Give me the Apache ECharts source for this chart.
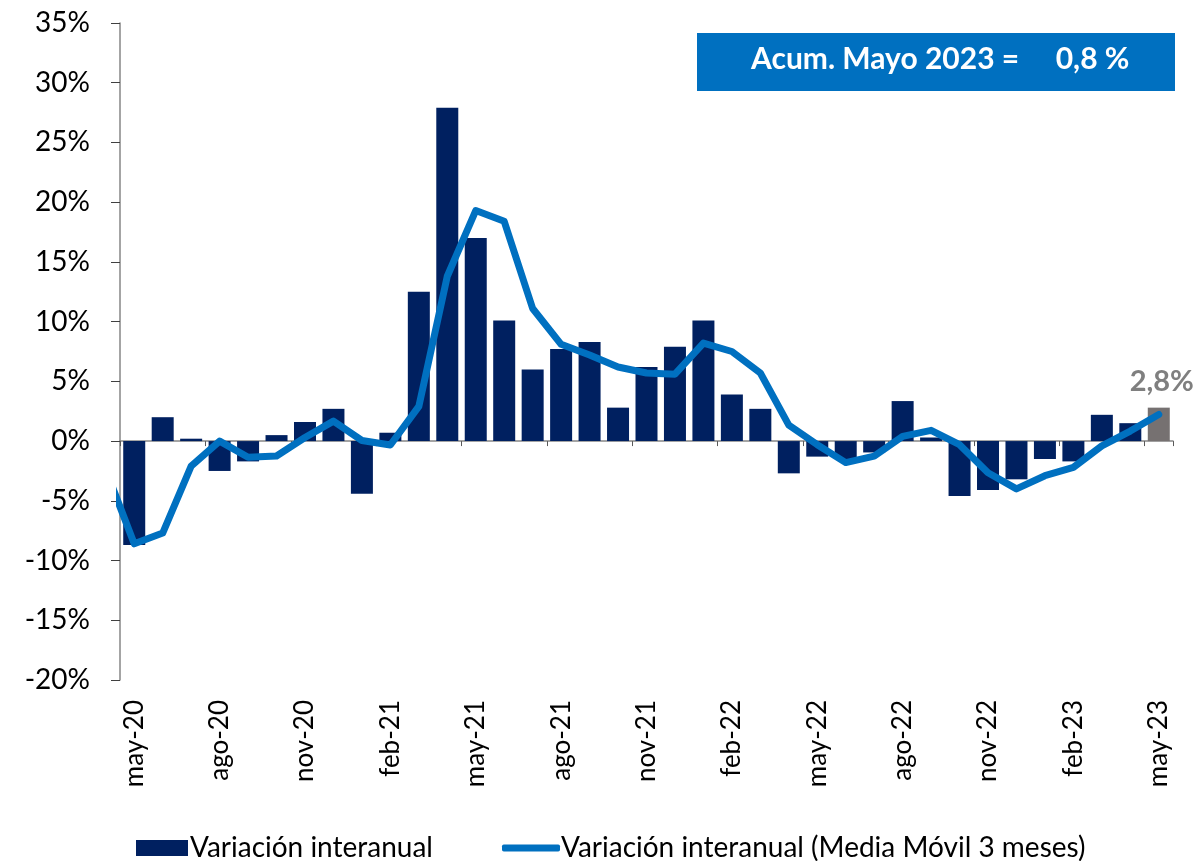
<!DOCTYPE html>
<html>
<head>
<meta charset="utf-8">
<script src="https://cdn.jsdelivr.net/npm/echarts@6/dist/echarts.min.js"></script>
<style>
  html, body { margin: 0; padding: 0; background: #ffffff; }
  #chart { width: 1201px; height: 861px; }
</style>
</head>
<body>
<div id="chart"></div>
<script>
// ---- Data ----
const categories = [
  'may-20','jun-20','jul-20','ago-20','sep-20','oct-20','nov-20','dic-20',
  'ene-21','feb-21','mar-21','abr-21','may-21','jun-21','jul-21','ago-21','sep-21','oct-21','nov-21','dic-21',
  'ene-22','feb-22','mar-22','abr-22','may-22','jun-22','jul-22','ago-22','sep-22','oct-22','nov-22','dic-22',
  'ene-23','feb-23','mar-23','abr-23','may-23'
];
// Variación interanual (%)
const variacion = [
  -8.7, 2.0, 0.2, -2.5, -1.7, 0.5, 1.6, 2.7,
  -4.4, 0.7, 12.5, 27.9, 17.0, 10.1, 6.0, 7.7, 8.3, 2.8, 6.2, 7.9,
  10.1, 3.9, 2.7, -2.7, -1.3, -1.5, -0.95, 3.35, 0.3, -4.6, -4.1, -3.2,
  -1.5, -1.7, 2.2, 1.5, 2.8
];
// Media móvil 3 meses (%); mediaMovilPrev is abr-20 (drawn just outside the left edge)
const mediaMovilPrev = -2.4;
const mediaMovil = [
  -8.6, -7.7, -2.1, 0.0, -1.35, -1.25, 0.3, 1.67,
  0.05, -0.33, 2.9, 13.8, 19.3, 18.4, 11.1, 8.1, 7.2, 6.2, 5.7, 5.6,
  8.2, 7.5, 5.7, 1.34, -0.3, -1.8, -1.26, 0.4, 0.9, -0.3, -2.65, -4.0,
  -2.9, -2.2, -0.4, 0.84, 2.23
];
const acumLabel = 'Acum. Mayo 2023';
const acumValue = 0.8;
const yTicks = { min: -20, max: 35, interval: 5 };
const seriesNames = ['Variación interanual', 'Variación interanual (Media Móvil 3 meses)'];

// ---- Chart ----
const FONT = 'Lato, "Open Sans", sans-serif';
const fmtComma = v => String(v).replace('.', ',');

const lineData = [[-1, mediaMovilPrev]].concat(mediaMovil.map((v, i) => [i, v]));
const barData = variacion.map((v, i) => {
  if (i === variacion.length - 1) {
    return {
      value: v,
      itemStyle: { color: '#767171' },
      label: {
        show: true, position: 'top', distance: 12,
        formatter: p => fmtComma(p.value) + '%',
        fontFamily: FONT, fontSize: 29, fontWeight: 'bold', color: '#7f7f7f',
        offset: [3, 0]
      }
    };
  }
  return v;
});

const chart = echarts.init(document.getElementById('chart'), null, { renderer: 'canvas' });
chart.setOption({
  animation: false,
  backgroundColor: '#ffffff',
  grid: { left: 120, right: 28, top: 23, bottom: 181, containLabel: false },
  legend: [
    {
      left: 131, top: 829,
      itemWidth: 52, itemHeight: 16, itemGap: 0,
      textStyle: { fontFamily: FONT, fontSize: 28, color: '#000000', padding: [0, 0, 0, -3] },
      data: [{ name: seriesNames[0], icon: 'rect' }]
    },
    {
      left: 497, top: 829,
      itemWidth: 58, itemHeight: 7, itemGap: 0,
      textStyle: { fontFamily: FONT, fontSize: 28, color: '#000000', padding: [0, 0, 0, -4] },
      data: [{ name: seriesNames[1], icon: 'roundRect' }]
    }
  ],
  xAxis: [
    {
      type: 'category', data: categories, position: 'bottom',
      axisLine: { show: false, onZero: false },
      axisTick: { show: false },
      axisLabel: {
        interval: 2, rotate: 90, margin: 20,
        fontFamily: FONT, fontSize: 26, color: '#000000'
      }
    },
    {
      type: 'category', data: categories, position: 'bottom',
      axisLine: { show: true, onZero: true, lineStyle: { color: '#868686', width: 1.5 } },
      axisTick: { show: true, interval: 2, length: 5, lineStyle: { color: '#595959', width: 1 } },
      axisLabel: { show: false }
    },
    {
      type: 'value', min: -0.5, max: 36.5, show: false,
      axisLine: { onZero: false }
    }
  ],
  yAxis: {
    type: 'value', min: yTicks.min, max: yTicks.max, interval: yTicks.interval,
    axisLine: { show: true, onZero: false, lineStyle: { color: '#868686', width: 1.5 } },
    axisTick: { show: true, length: 9, lineStyle: { color: '#404040' } },
    splitLine: { show: false },
    axisLabel: {
      margin: 30, fontFamily: FONT, fontSize: 28, color: '#000000',
      formatter: '{value}%'
    }
  },
  series: [
    {
      name: seriesNames[0], type: 'bar', xAxisIndex: 0,
      data: barData, barWidth: 22,
      itemStyle: { color: '#002060' }
    },
    {
      name: seriesNames[1], type: 'line', xAxisIndex: 2,
      data: lineData, symbol: 'none', clip: true, z: 5,
      lineStyle: { color: '#0070C0', width: 7, join: 'round', cap: 'round' },
      itemStyle: { color: '#0070C0' }
    }
  ],
  graphic: [
    {
      type: 'rect', left: 697, top: 33, z: 10,
      shape: { width: 478, height: 58 },
      style: { fill: '#0070C0' }
    },
    {
      type: 'text', left: 751, top: 44, z: 11,
      style: {
        text: acumLabel + ' =     ' + fmtComma(acumValue) + ' %',
        fill: '#ffffff', font: 'bold 30px ' + FONT
      }
    }
  ]
});
</script>
</body>
</html>
